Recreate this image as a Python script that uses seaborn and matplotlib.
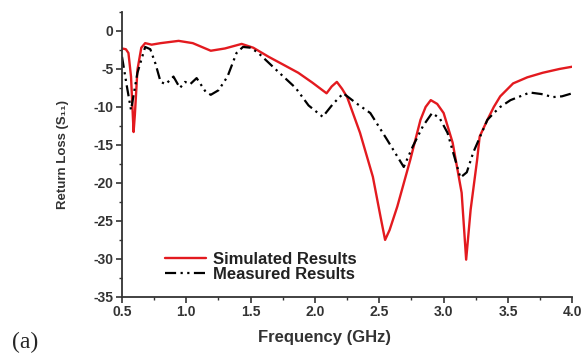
import numpy as np
import pandas as pd
import matplotlib
matplotlib.use("Agg")
import matplotlib.pyplot as plt
import seaborn as sns
from matplotlib.ticker import MultipleLocator

# DATA

sim_freq = [0.50, 0.53, 0.55, 0.57, 0.59, 0.60, 0.62, 0.65, 0.68, 0.73, 0.80, 0.94, 1.05,
            1.19, 1.30, 1.43, 1.52, 1.64, 1.75, 1.87, 1.98, 2.09, 2.13, 2.17, 2.21, 2.25,
            2.35, 2.45, 2.51, 2.545, 2.58, 2.64, 2.74, 2.82, 2.86, 2.90, 2.95, 3.00, 3.07,
            3.14, 3.175, 3.21, 3.26, 3.28, 3.34, 3.39, 3.44, 3.54, 3.65, 3.77, 3.90, 4.00]
sim_s11 = [-2.3, -2.4, -2.9, -6.0, -13.3, -11.0, -5.1, -2.2, -1.6, -1.8, -1.6, -1.3, -1.6,
           -2.6, -2.3, -1.7, -2.2, -3.4, -4.4, -5.5, -6.8, -8.2, -7.3, -6.7, -7.6, -8.7,
           -13.4, -19.2, -24.5, -27.5, -26.2, -23.1, -17.0, -11.7, -10.0, -9.1, -9.6, -10.8, -14.7,
           -21.3, -30.1, -23.5, -17.0, -13.9, -11.7, -10.0, -8.6, -6.9, -6.1, -5.5, -5.0, -4.7]

meas_freq = [0.50, 0.54, 0.57, 0.62, 0.68, 0.72, 0.76, 0.80, 0.84, 0.90, 0.95, 0.99, 1.03,
             1.08, 1.15, 1.19, 1.25, 1.32, 1.39, 1.44, 1.50, 1.56, 1.71, 1.85, 1.95, 2.06,
             2.14, 2.22, 2.32, 2.43, 2.56, 2.69, 2.76, 2.84, 2.91, 2.97, 3.03, 3.13, 3.18,
             3.23, 3.34, 3.39, 3.44, 3.52, 3.67, 3.76, 3.85, 3.92, 4.00]
meas_s11 = [-3.4, -7.5, -10.4, -5.5, -2.1, -2.4, -4.3, -6.7, -7.0, -6.0, -7.5, -6.7, -7.0,
            -6.2, -8.0, -8.4, -7.8, -6.0, -2.9, -2.1, -2.2, -2.9, -5.3, -7.5, -9.8, -11.3,
            -9.6, -8.2, -9.5, -10.8, -14.3, -17.9, -15.2, -12.5, -10.8, -11.5, -13.4, -19.3, -18.6,
            -16.0, -11.7, -10.8, -10.0, -9.1, -8.1, -8.3, -8.7, -8.6, -8.2]

sim = pd.DataFrame({"Frequency": sim_freq, "S11": sim_s11})
meas = pd.DataFrame({"Frequency": meas_freq, "S11": meas_s11})

# PLOT

sns.set_style("ticks")
plt.rcParams["font.family"] = ["Liberation Sans", "DejaVu Sans"]
plt.rcParams["font.weight"] = "bold"

fig = plt.figure(figsize=(5.81, 3.53), dpi=100)
ax = fig.add_axes([0.21, 0.159, 0.775, 0.807])

sns.lineplot(data=sim, x="Frequency", y="S11", ax=ax, color="#e31a1f", lw=1.7,
             label="Simulated Results")
sns.lineplot(data=meas, x="Frequency", y="S11", ax=ax, color="black", lw=1.6,
             dashes=False, label="Measured Results")
ax.lines[1].set_dashes([5, 2, 1, 2, 1, 2])

ax.set_xlim(0.5, 4.0)
ax.set_ylim(-35, 2.5)
ax.xaxis.set_minor_locator(MultipleLocator(0.25))
ax.yaxis.set_minor_locator(MultipleLocator(2.5))
ax.set_xticks([0.5, 1.0, 1.5, 2.0, 2.5, 3.0, 3.5, 4.0])
ax.set_xticklabels(["0.5", "1.0", "1.5", "2.0", "2.5", "3.0", "3.5", "4.0"])
ax.set_yticks([0, -5, -10, -15, -20, -25, -30, -35])
ax.set_yticklabels(["0", "-5", "-10", "-15", "-20", "-25", "-30", "-35"])

ax.tick_params(axis="both", which="major", labelsize=10, length=4.5, width=1.2,
               colors="#333333", labelcolor="#333333", pad=1.5)
ax.tick_params(axis="both", which="minor", length=2.5, width=1.0, colors="#333333")
for lab in ax.get_xticklabels() + ax.get_yticklabels():
    lab.set_fontweight("bold")

sns.despine(ax=ax)
for s in ["left", "bottom"]:
    ax.spines[s].set_linewidth(1.3)
    ax.spines[s].set_color("#333333")

ax.set_xlabel("Frequency (GHz)", fontsize=12, fontweight="bold", color="#333333")
ax.set_ylabel("Return Loss (S₁₁)", fontsize=9.5, fontweight="bold", color="#333333")
ax.xaxis.set_label_coords(0.45, -0.115)
ax.yaxis.set_label_coords(-0.118, 0.5)

leg = ax.legend(loc="lower left", bbox_to_anchor=(0.08, 0.03), frameon=False,
                prop={"size": 12, "weight": "bold"}, handlelength=2.5, handletextpad=0.4,
                labelspacing=0.0, borderaxespad=0)
for t in leg.get_texts():
    t.set_color("#222222")

fig.text(0.02, 0.015, "(a)", fontsize=17, family=["Liberation Serif", "DejaVu Serif"],
         fontweight="normal")

fig.savefig("out.png", dpi=100)
